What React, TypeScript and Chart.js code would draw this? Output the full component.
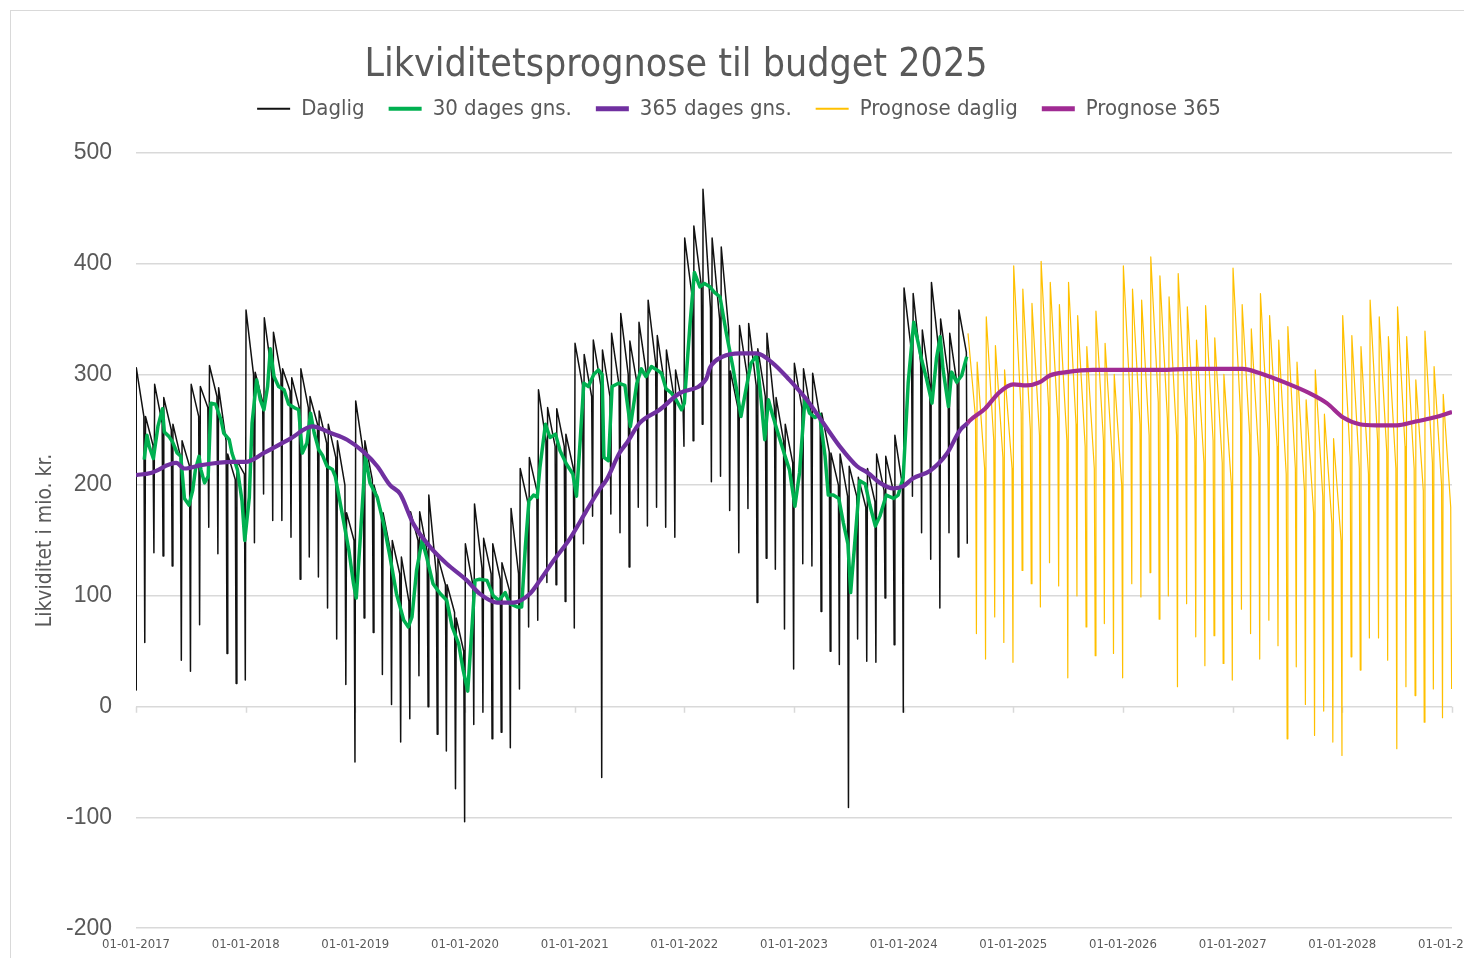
import React, { useEffect, useRef } from "react";
import { Chart, registerables } from "chart.js";

Chart.register(...registerables);

// ---------- text ----------
const chartTitle = "Likviditetsprognose til budget 2025";
const yAxisTitle = "Likviditet i mio. kr.";
const seriesNames = ["Daglig", "30 dages gns.", "365 dages gns.", "Prognose daglig", "Prognose 365"];
const firstYear = 2017;
const lastYear = 2029;
const yMin = -200;
const yMax = 500;
const yStep = 100;

// ---------- data (x in months since 01-01-2017) ----------
// First two daily readings of January 2017 (before the first jump)
const dagligOpening = [75, 15];
// Daily liquidity, one tooth per month: value at month start, value just before the month-end drop, month-end low
const dagligFirstMonth = 0;
const dagligPeak = [
  306, 262, 291, 279, 255, 240, 291, 289, 308, 288, 228, 222,
  358, 302, 351, 338, 305, 297, 305, 280, 267, 255, 240, 175,
  276, 240, 200, 175, 150, 135, 176, 176, 191, 135, 110, 80,
  147, 183, 152, 147, 130, 179, 215, 225, 286, 270, 269, 246,
  328, 318, 331, 322, 337, 355, 330, 347, 367, 335, 322, 304,
  423, 434, 467, 423, 415, 303, 344, 346, 323, 337, 279, 255,
  310, 305, 301, 265, 229, 228, 217, 207, 215, 228, 226, 245,
  378, 373, 340, 383, 350, 337, 358,
];
const dagligPreDrop = [
  262, 236, 256, 250, 226, 217, 262, 270, 280, 240, 205, 210,
  300, 275, 300, 300, 285, 270, 270, 255, 238, 225, 200, 150,
  230, 205, 175, 140, 120, 95, 150, 140, 120, 110, 85, 50,
  110, 125, 120, 115, 105, 120, 185, 195, 240, 235, 235, 215,
  290, 280, 290, 280, 290, 300, 290, 300, 310, 290, 280, 270,
  370, 380, 360, 350, 340, 270, 300, 290, 280, 270, 240, 220,
  270, 265, 260, 230, 200, 190, 190, 180, 185, 195, 195, 200,
  320, 310, 290, 320, 300, 290, 320,
];
const dagligLow = [
  58, 139, 136, 127, 42, 32, 74, 162, 138, 48, 21, 24,
  148, 192, 168, 168, 153, 115, 135, 117, 89, 61, 20, -50,
  80, 67, 29, 2, -32, -11, 28, 0, -25, -40, -74, -104,
  -16, -5, -29, -23, -37, 16, 72, 78, 112, 110, 95, 71,
  147, 172, -64, 174, 157, 126, 180, 163, 180, 162, 153, 235,
  240, 255, 203, 208, 177, 139, 179, 94, 134, 124, 70, 34,
  129, 127, 86, 50, 38, -91, 61, 41, 40, 98, 56, -5,
  190, 157, 133, 89, 157, 135, 147,
];

// Forecast, same monthly structure
const prognoseFirstMonth = 91;
const prognosePeak = [
  337, 311, 352, 326, 304,
  398, 377, 364, 402, 383, 363, 383, 353, 325, 357, 328, 300,
  398, 377, 367, 406, 389, 370, 391, 361, 331, 362, 333, 300,
  396, 363, 341, 373, 353, 331, 343, 311, 277, 304, 264, 242,
  353, 335, 325, 367, 352, 334, 361, 334, 295, 339, 307, 282,
];
const prognosePreDrop = [
  261, 215, 240, 225, 215,
  265, 250, 245, 270, 260, 240, 255, 235, 215, 240, 220, 200,
  265, 255, 245, 275, 260, 245, 260, 240, 220, 240, 220, 200,
  265, 245, 225, 250, 235, 210, 215, 195, 175, 190, 165, 150,
  225, 215, 210, 240, 230, 215, 235, 215, 195, 220, 200, 180,
];
const prognoseLow = [
  66, 43, 81, 58, 40,
  123, 111, 90, 130, 109, 26, 100, 72, 46, 75, 48, 26,
  111, 99, 121, 79, 100, 18, 93, 63, 37, 64, 39, 24,
  88, 66, 43, 78, 55, -29, 36, 2, -26, -4, -32, -44,
  45, 33, 62, 62, 42, -38, 18, 10, -14, 16, -10, 16,
];

// 30-day moving average
const gns30Month = [
  0.9, 1.2, 1.45, 1.9, 2.4, 2.9, 3.1, 3.6, 4.0, 4.5, 4.9, 5.3, 5.8, 6.2, 6.5, 6.9, 7.1, 7.5, 7.9,
  8.2, 8.7, 9.3, 9.6, 10.2, 10.5, 11.1, 11.6, 11.9, 12.4, 12.7, 13.2, 13.6, 14.0, 14.4, 14.7, 15.1,
  15.6, 16.2, 16.7, 17.3, 17.8, 18.2, 18.7, 19.1, 19.5, 20.0, 20.4, 20.9, 21.5, 21.8, 22.5, 23.3,
  23.8, 24.1, 24.5, 25.1, 25.6, 26.4, 27.1, 27.8, 28.5, 29.3, 29.8, 30.2, 30.7, 31.3, 31.8, 32.5,
  33.3, 34.0, 34.6, 35.3, 35.8, 36.3, 36.6, 37.1, 37.6, 38.4, 39.1, 39.7, 40.4, 40.9, 41.7, 42.2,
  42.6, 43.0, 43.5, 43.9, 44.2, 44.8, 45.3, 45.9, 46.4, 47.1, 47.8, 48.2, 48.6, 49.0, 49.5, 50.1,
  50.6, 51.0, 51.2, 51.7, 52.1, 52.8, 53.5, 54.1, 54.8, 55.3, 55.8, 56.4, 57.0, 57.5, 58.0, 58.6,
  59.1, 59.7, 60.0, 60.6, 61.1, 61.7, 62.2, 62.8, 63.3, 63.9, 64.6, 65.3, 66.2, 66.8, 67.3, 67.9,
  68.4, 68.8, 69.2, 69.7, 70.8, 71.5, 72.1, 72.6, 73.2, 73.7, 74.3, 74.8, 75.4, 75.75, 76.3, 76.9,
  77.4, 77.9, 78.2, 78.7, 79.2, 79.8, 80.3, 80.9, 81.4, 82.1, 82.9, 83.4, 83.95, 84.5, 85.1, 85.6,
  86.0, 86.5, 87.1, 87.6, 88.0, 88.3, 88.9, 89.25, 89.8, 90.35, 90.9,
];
const gns30Value = [
  223, 245, 235, 224, 253, 269, 248, 244, 239, 229, 226, 188, 182, 195, 214, 226, 214, 202, 208,
  274, 273, 259, 247, 241, 229, 214, 186, 150, 189, 256, 295, 277, 268, 289, 323, 298,
  289, 286, 273, 270, 268, 229, 238, 265, 247, 232, 227, 217, 214, 208, 177, 141,
  111, 98, 147, 226, 202, 189, 165, 135, 102, 78, 72, 81, 123, 150, 135, 111,
  102, 96, 72, 57, 33, 14, 51, 114, 115, 114, 100, 96, 103, 93, 90, 90,
  144, 186, 191, 189, 216, 255, 243, 246, 231, 219, 210, 190, 240, 292, 289, 300,
  304, 300, 225, 222, 289, 292, 290, 253, 292, 305, 298, 307, 304, 301, 287, 283,
  277, 268, 274, 343, 392, 379, 382, 379, 374, 370, 337, 307, 262, 289, 310, 317,
  277, 241, 277, 262, 232, 214, 181, 211, 278, 265, 261, 264, 226, 191, 191, 188,
  166, 147, 103, 153, 204, 201, 182, 163, 172, 191, 188, 191, 207, 293, 347, 328,
  312, 296, 274, 315, 334, 305, 271, 302, 293, 299, 316,
];

// 365-day moving average
const gns365Month = [
  0, 1.6, 4.4, 5.3, 7.1, 10.4, 12.0, 14.0, 16.9, 19.3, 21.3, 23.1, 24.9, 26.4, 27.8, 28.9,
  30.35, 32.2, 34.0, 36.2, 37.6, 39.5, 41.3, 43.1, 44.2, 45.7, 47.5, 49.3, 50.7, 51.5, 52.9,
  53.7, 55.1, 57.3, 59.5, 62.4, 62.8, 64.2, 66.1, 67.9, 69.7, 71.5, 73.4, 75.2, 77.0, 78.9,
  80.1, 81.4, 82.9, 83.95, 85.0, 86.9, 88.7, 90.2, 91.0,
];
const gns365Value = [
  209, 211, 220, 215, 218, 221, 221, 229, 242, 253, 247, 241, 230, 217, 200, 192,
  165, 144, 129, 114, 102, 94, 94, 102, 114, 132, 152, 177, 196, 205, 229,
  238, 256, 268, 283, 296, 306, 316, 319, 319, 310, 295, 277, 256, 235, 217,
  211, 202, 197, 199, 206, 213, 228, 250, 256,
];

// Forecast 365-day average
const prog365Month = [
  91.0, 91.2, 92.9, 94.5, 96.0, 97.4, 98.9, 100.0, 101.8, 104.7, 108.4, 112.0, 115.7,
  121.1, 123.0, 125.9, 128.4, 130.3, 132.1, 133.9, 135.7, 138.0, 139.8, 142.0, 144.0,
];
const prog365Value = [
  256, 258, 269, 284, 291, 290, 293, 299, 302, 304, 304, 304, 305,
  305, 301, 292, 283, 274, 261, 255, 254, 254, 257, 261, 266,
];

// ---------- styling ----------
const NARROW = "'Liberation Sans Narrow', 'Arial Narrow', 'DejaVu Sans Condensed', 'Roboto Condensed', sans-serif";
const TEXT = "#595959";
const GRID = "#d9d9d9";
const colors = ["#111111", "#00b050", "#7030a0", "#ffc000", "#a02b93"];
const lineWidths = [1.5, 3.5, 4.2, 1.2, 4.2];
const legendLineWidths = [2, 4, 5, 2, 5];
const drawOrder = [5, 3, 2, 4, 1];
const smoothSeries = [false, false, true, false, true];

function sawtooth(first: number, peak: number[], pre: number[], low: number[]) {
  const pts: { x: number; y: number }[] = [];
  peak.forEach((p, i) => {
    const m = first + i;
    pts.push({ x: m + 0.04, y: p });
    pts.push({ x: m + 0.86, y: pre[i] });
    pts.push({ x: m + 0.96, y: low[i] });
  });
  return pts;
}

function pairs(xs: number[], ys: number[]) {
  return xs.map((x, i) => ({ x, y: ys[i] }));
}

const layoutTweaks = {
  id: "layoutTweaks",
  afterLayout(chart: any) {
    const t = chart.titleBlock;
    if (t) {
      t.left -= 63;
      t.right -= 63;
    }
    const l = chart.legend;
    if (l) {
      l.top -= 23;
      l.bottom -= 23;
    }
  },
  beforeDatasetsDraw(chart: any) {
    const xs = chart.scales.x;
    const ys = chart.scales.y;
    const y0 = ys.getPixelForValue(0);
    const ctx = chart.ctx;
    ctx.save();
    ctx.strokeStyle = GRID;
    ctx.lineWidth = 1.5;
    ctx.beginPath();
    xs.ticks.forEach((t: any) => {
      const px = Math.round(xs.getPixelForValue(t.value)) + 0.5;
      ctx.moveTo(px, y0);
      ctx.lineTo(px, y0 + 6);
    });
    ctx.stroke();
    ctx.restore();
  },
};

export default function App() {
  const canvasRef = useRef<HTMLCanvasElement | null>(null);

  useEffect(() => {
    document.body.style.overflow = "hidden";
    const canvas = canvasRef.current;
    if (!canvas) return;

    const daily = [
      { x: 0, y: dagligOpening[0] },
      { x: 0.02, y: dagligOpening[1] },
      ...sawtooth(dagligFirstMonth, dagligPeak, dagligPreDrop, dagligLow),
    ];

    const seriesData = [
      daily,
      pairs(gns30Month, gns30Value),
      pairs(gns365Month, gns365Value),
      sawtooth(prognoseFirstMonth, prognosePeak, prognosePreDrop, prognoseLow),
      pairs(prog365Month, prog365Value),
    ];

    const chart = new Chart(canvas, {
      type: "line",
      data: {
        datasets: seriesNames.map((name, i) => ({
          label: name,
          data: seriesData[i],
          borderColor: colors[i],
          backgroundColor: colors[i],
          borderWidth: lineWidths[i],
          pointRadius: 0,
          pointHoverRadius: 0,
          tension: smoothSeries[i] ? 0.4 : 0,
          cubicInterpolationMode: smoothSeries[i] ? "monotone" : "default",
          fill: false,
          order: drawOrder[i],
          borderJoinStyle: "round" as const,
        })),
      },
      options: {
        responsive: false,
        animation: false,
        events: [],
        layout: { padding: { top: 0, left: 15, right: 49, bottom: 4 } },
        plugins: {
          tooltip: { enabled: false },
          title: {
            display: true,
            text: chartTitle,
            color: TEXT,
            font: { family: NARROW, size: 39, weight: "normal" },
            padding: { top: 31, bottom: 8 },
          },
          legend: {
            display: true,
            position: "top",
            labels: {
              color: TEXT,
              font: { family: NARROW, size: 22 },
              usePointStyle: true,
              pointStyle: "line",
              pointStyleWidth: 33,
              padding: 24,
              sort: (a: any, b: any) => a.datasetIndex - b.datasetIndex,
              generateLabels: (c: any) => {
                const items = Chart.defaults.plugins.legend.labels.generateLabels(c);
                return items.map((it: any) => ({
                  ...it,
                  lineWidth: legendLineWidths[it.datasetIndex],
                  strokeStyle: colors[it.datasetIndex],
                  fillStyle: colors[it.datasetIndex],
                  pointStyle: "line",
                }));
              },
            },
          },
        },
        scales: {
          x: {
            type: "linear",
            min: 0,
            max: (lastYear - firstYear) * 12,
            grid: { display: false, drawTicks: false },
            border: { display: false },
            ticks: {
              stepSize: 12,
              autoSkip: false,
              maxRotation: 0,
              minRotation: 0,
              padding: 9,
              color: TEXT,
              font: { family: NARROW, size: 13 },
              callback: (v: any) => `01-01-${firstYear + Math.round(Number(v) / 12)}`,
            },
          },
          y: {
            type: "linear",
            min: yMin,
            max: yMax,
            afterFit: (s: any) => {
              s.width = 110;
            },
            grid: { color: GRID, lineWidth: 1.5, drawTicks: false },
            border: { display: false },
            ticks: {
              stepSize: yStep,
              padding: 24,
              color: TEXT,
              font: { family: "'Liberation Sans', Arial, sans-serif", size: 23 },
            },
            title: {
              display: true,
              text: yAxisTitle,
              color: TEXT,
              font: { family: NARROW, size: 21 },
              padding: { top: 7, bottom: 0 },
            },
          },
        },
      },
      plugins: [layoutTweaks],
    } as any);

    return () => chart.destroy();
  }, []);

  return (
    <div style={{ paddingLeft: 2, paddingTop: 2 }}>
      <div
        style={{
          width: 1461,
          height: 947,
          overflow: "hidden",
          borderLeft: `1px solid ${GRID}`,
          borderTop: `1px solid ${GRID}`,
          background: "#fff",
        }}
      >
        <canvas ref={canvasRef} width={1490} height={955} style={{ width: 1490, height: 955, display: "block" }} />
      </div>
    </div>
  );
}
